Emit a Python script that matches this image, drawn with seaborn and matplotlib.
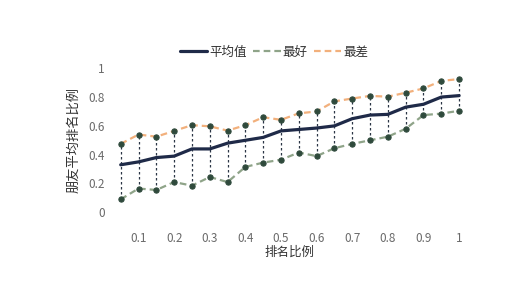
import matplotlib
matplotlib.use("Agg")
import matplotlib.pyplot as plt
from matplotlib.lines import Line2D
import seaborn as sns
import pandas as pd

sns.set_theme(style="white")
plt.rcParams['font.family'] = ['Noto Sans CJK SC', 'DejaVu Sans']

x = [0.05, 0.1, 0.15, 0.2, 0.25, 0.3, 0.35, 0.4, 0.45, 0.5,
     0.55, 0.6, 0.65, 0.7, 0.75, 0.8, 0.85, 0.9, 0.95, 1.0]
mean_vals = [0.33, 0.35, 0.38, 0.39, 0.44, 0.44, 0.48, 0.50, 0.52, 0.565,
             0.575, 0.585, 0.60, 0.65, 0.675, 0.68, 0.73, 0.75, 0.80, 0.81]
best_vals = [0.09, 0.165, 0.155, 0.21, 0.185, 0.245, 0.21, 0.315, 0.345, 0.365,
             0.415, 0.39, 0.445, 0.475, 0.50, 0.525, 0.58, 0.675, 0.685, 0.705]
worst_vals = [0.475, 0.54, 0.525, 0.565, 0.605, 0.597, 0.567, 0.605, 0.66, 0.642,
              0.687, 0.70, 0.77, 0.79, 0.808, 0.803, 0.83, 0.86, 0.912, 0.925]
series_names = ['平均值', '最好', '最差']
xticks = [0.1, 0.2, 0.3, 0.4, 0.5, 0.6, 0.7, 0.8, 0.9, 1.0]
xtick_labels = ['0.1', '0.2', '0.3', '0.4', '0.5', '0.6', '0.7', '0.8', '0.9', '1']
yticks = [0, 0.2, 0.4, 0.6, 0.8, 1.0]
ytick_labels = ['0', '0.2', '0.4', '0.6', '0.8', '1']

c_mean = '#1f2a48'
c_best = '#8fa489'
c_worst = '#f2b07c'
c_marker = '#2f4a3c'
c_tick = '#6a6a6a'

fig = plt.figure(figsize=(5.2, 2.83), dpi=100)
ax = fig.add_axes([0.215, 0.2498, 0.685, 0.509])

df = pd.DataFrame({'x': x, 'mean': mean_vals, 'best': best_vals, 'worst': worst_vals})

ax.vlines(df['x'], df['best'], df['worst'], colors='#2b3646',
          linestyles=(0, (2, 2)), linewidth=0.9, zorder=1)

sns.lineplot(data=df, x='x', y='best', ax=ax, color=c_best, linewidth=1.6,
             linestyle=(0, (3, 1.8)), marker='o', markersize=3.8,
             markerfacecolor=c_marker, markeredgecolor=c_marker, zorder=2)
sns.lineplot(data=df, x='x', y='worst', ax=ax, color=c_worst, linewidth=1.6,
             linestyle=(0, (3, 1.8)), marker='o', markersize=3.8,
             markerfacecolor=c_marker, markeredgecolor=c_marker, zorder=2)
sns.lineplot(data=df, x='x', y='mean', ax=ax, color=c_mean, linewidth=2.3, zorder=3)

ax.set_xlim(0.025, 1.025)
ax.set_ylim(0, 1)
ax.set_xticks(xticks)
ax.set_xticklabels(xtick_labels)
ax.set_yticks(yticks)
ax.set_yticklabels(ytick_labels)
ax.tick_params(axis='x', length=0, pad=14, labelsize=8.5, labelcolor=c_tick)
ax.tick_params(axis='y', length=0, pad=5, labelsize=8.5, labelcolor=c_tick)
for s in ax.spines.values():
    s.set_visible(False)
ax.grid(False)
for ln in ax.lines:
    ln.set_clip_on(False)

ax.set_xlabel('排名比例', fontsize=9, color='#333333', labelpad=1)
ax.set_ylabel('朋友平均排名比例', fontsize=9.5, color='#333333', labelpad=6)

handles = [Line2D([], [], color=c_mean, linewidth=2.3),
           Line2D([], [], color=c_best, linewidth=1.6, linestyle=(0, (3, 1.8))),
           Line2D([], [], color=c_worst, linewidth=1.6, linestyle=(0, (3, 1.8)))]
fig.legend(handles, series_names, loc='center', bbox_to_anchor=(274 / 520, 0.816),
           ncol=3, frameon=False, fontsize=9, handlelength=2.2, handletextpad=0.15,
           columnspacing=0.5, labelcolor='#333333')

fig.savefig('out.png', dpi=100, facecolor='white')
